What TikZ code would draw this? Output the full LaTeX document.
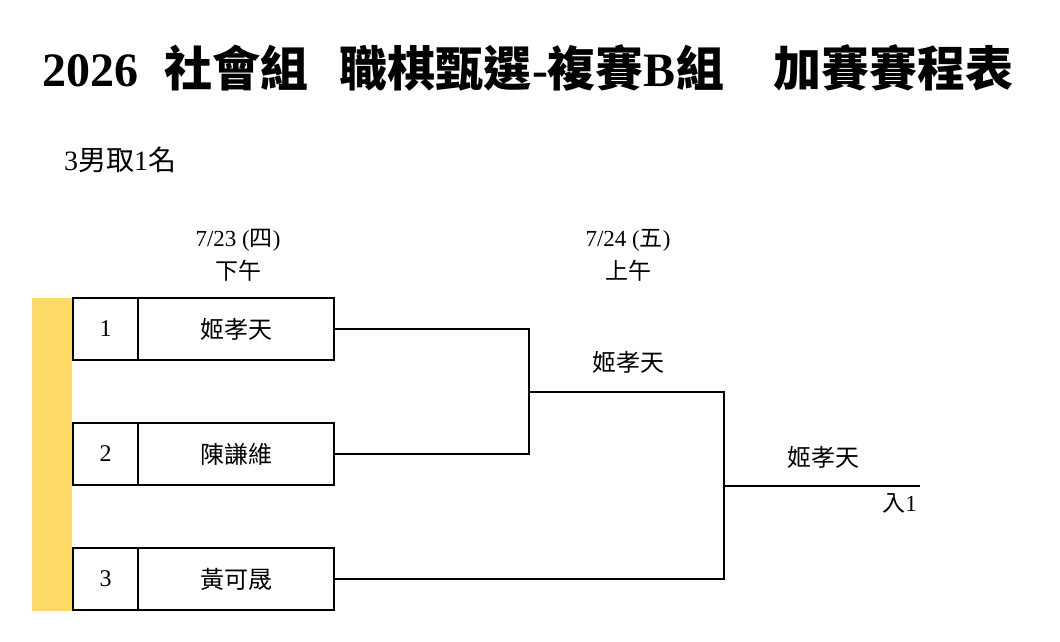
\documentclass[tikz,border=0pt]{standalone}
\usepackage{fontspec}
\setmainfont{Liberation Serif}
\newfontfamily\cjk{Noto Sans CJK TC}
\definecolor{gold}{HTML}{FFD966}
\tikzset{
  cell/.style={draw, line width=2.4pt, minimum height=62pt, inner sep=0pt, font=\fontsize{24}{27}\selectfont},
  numcell/.style={cell, minimum width=65pt},
  namecell/.style={cell, minimum width=196pt},
  link/.style={line width=2.2pt},
  lbl/.style={inner sep=0pt, font=\fontsize{23}{26}\selectfont},
}
\begin{document}
\begin{tikzpicture}[x=1pt,y=-1pt]
\useasboundingbox (0,0) rectangle (1060,641);
% title
\node[inner sep=0pt, font=\fontsize{48}{50}\selectfont] (title) at (528,68)
  {{\bfseries 2026}\hspace{26pt}{\cjk\bfseries 社會組}\hspace{32pt}{\cjk\bfseries 職棋甄選}{\bfseries -}{\cjk\bfseries 複賽}{\bfseries B}{\cjk\bfseries 組}\hspace{50pt}{\cjk\bfseries 加賽賽程表}};
\node[lbl, anchor=west, font=\fontsize{28}{30}\selectfont] (sub) at (64,160) {3{\cjk 男取}1{\cjk 名}};
% dates
\node[lbl] (d1) at (238,240) {7/23 ({\cjk 四})};
\node[lbl] (t1) at (238,271) {\cjk 下午};
\node[lbl] (d2) at (628,240) {7/24 ({\cjk 五})};
\node[lbl] (t2) at (628,271) {\cjk 上午};
% yellow bar
\fill[gold] (32,298) rectangle (72,611);
% boxes
\node[numcell] (n1) at (105.5,329) {1};
\node[namecell] (p1) at (236,329) {\cjk 姬孝天};
\node[numcell] (n2) at (105.5,454) {2};
\node[namecell] (p2) at (236,454) {\cjk 陳謙維};
\node[numcell] (n3) at (105.5,579) {3};
\node[namecell] (p3) at (236,579) {\cjk 黃可晟};
% bracket
\coordinate (j1) at (529,392);
\coordinate (j2) at (724,486);
\coordinate (fin) at (920,486);
\draw[link] (p1.east) -| (j1) |- (p2.east);
\draw[link] (j1) -| (j2);
\draw[link] (p3.east) -| (j2);
\draw[link] (j2) -- (fin);
\node[lbl, font=\fontsize{24}{27}\selectfont] (w1) at (628,362) {\cjk 姬孝天};
\node[lbl, font=\fontsize{24}{27}\selectfont] (w2) at (823,457) {\cjk 姬孝天};
\node[lbl, anchor=east] (q) at (917,503) {{\cjk 入}1};
\end{tikzpicture}
\end{document}
